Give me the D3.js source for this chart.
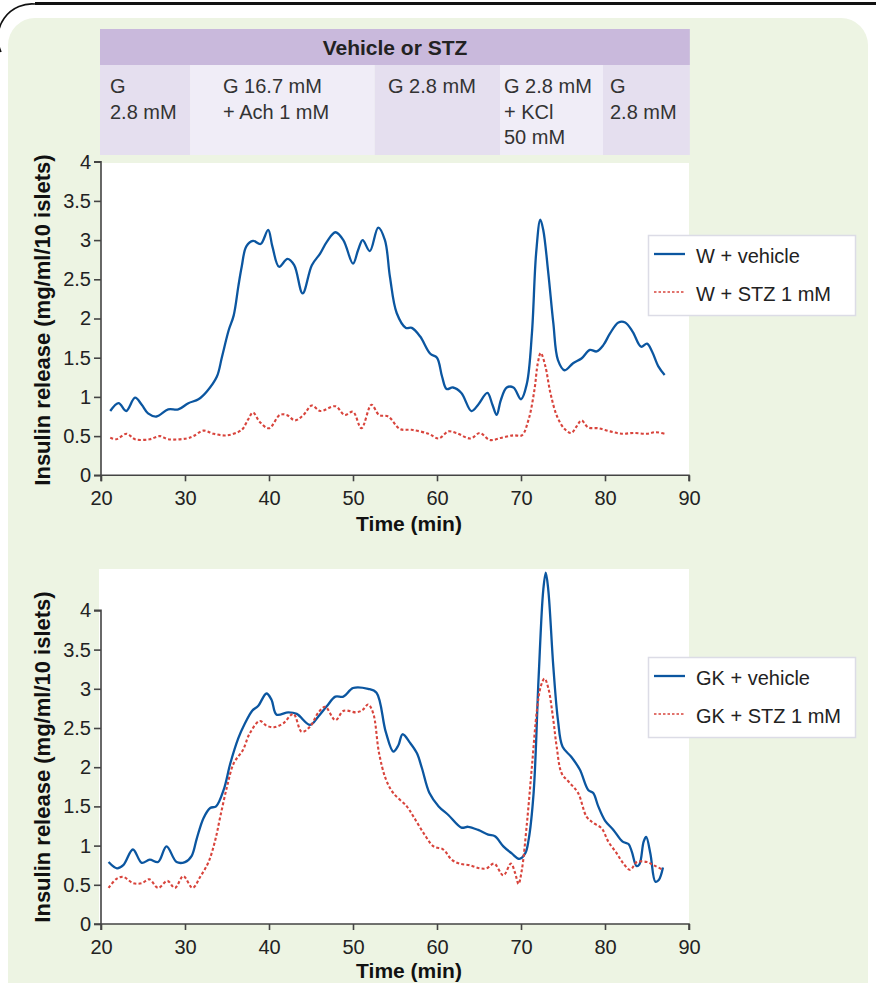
<!DOCTYPE html>
<html>
<head>
<meta charset="utf-8">
<script src="https://cdn.jsdelivr.net/npm/d3@7"></script>
<style>
html,body{margin:0;padding:0;background:#fff;}
svg{display:block;font-family:"Liberation Sans",Arial,Helvetica,sans-serif;}
</style>
</head>
<body>
<svg id="chart" width="876" height="983"></svg>
<script>
// ---------- DATA ----------
const xTicks = [20, 30, 40, 50, 60, 70, 80, 90];
const yTicks = [0, 0.5, 1, 1.5, 2, 2.5, 3, 3.5, 4];
const headerTitle = "Vehicle or STZ";
const phaseLabels = [["G", "2.8 mM"], ["G 16.7 mM", "+ Ach 1 mM"], ["G 2.8 mM"], ["G 2.8 mM", "+ KCl", "50 mM"], ["G", "2.8 mM"]];
const phaseBounds = [19.88, 30.6, 52.6, 67.5, 79.76, 90.1]; // minutes (cell edges)
const seriesNamesTop = ["W + vehicle", "W + STZ 1 mM"];
const seriesNamesBottom = ["GK + vehicle", "GK + STZ 1 mM"];

const wVehTime = [21.1,22.1,23.0,24.05,24.85,25.6,26.6,28.0,29.2,30.4,31.6,32.6,33.8,34.4,35.2,35.8,36.35,36.75,37.3,38.1,39.0,39.9,40.4,41.2,42.2,43.0,44.0,45.1,46.1,46.9,47.9,48.85,50.0,50.6,51.15,52.0,53.0,53.8,54.4,55.2,56.3,57.0,58.0,59.2,60.0,60.6,61.15,61.9,62.9,64.1,64.9,66.0,66.6,67.1,67.6,68.3,69.1,70.0,70.7,71.3,71.8,72.3,72.65,73.25,73.85,74.4,75.2,76.2,77.2,78.2,79.0,79.8,80.6,81.6,82.4,83.3,84.3,85.0,85.6,86.35,87.1];
const wVehVal  = [0.82,0.92,0.82,0.99,0.90,0.79,0.75,0.84,0.84,0.92,0.97,1.07,1.26,1.51,1.85,2.04,2.41,2.66,2.92,2.99,2.95,3.13,2.92,2.66,2.76,2.68,2.32,2.68,2.83,2.98,3.10,3.00,2.70,2.87,3.00,2.86,3.16,3.00,2.53,2.07,1.88,1.88,1.77,1.55,1.50,1.26,1.10,1.12,1.05,0.82,0.90,1.05,0.90,0.77,0.96,1.12,1.12,0.97,1.17,1.81,2.83,3.26,3.13,2.58,1.94,1.47,1.34,1.43,1.49,1.60,1.58,1.66,1.81,1.95,1.95,1.83,1.64,1.68,1.58,1.39,1.28];

const wStzTime = [21.1,21.8,23.05,24.05,25.8,27.0,28.0,30.2,31.0,32.2,33.4,35.0,36.75,37.5,38.1,38.9,40.0,41.3,42.1,43.1,44.1,45.1,46.1,47.9,49.0,50.0,51.0,52.2,53.1,54.2,55.6,57.0,59.0,60.2,61.35,62.3,64.0,65.1,66.3,67.7,69.1,70.1,70.9,71.6,72.0,72.35,72.9,73.5,74.3,75.2,76.0,76.6,77.2,78.0,79.2,80.6,82.0,83.4,85.0,86.0,87.1];
const wStzVal  = [0.48,0.46,0.53,0.46,0.46,0.50,0.46,0.47,0.50,0.57,0.53,0.51,0.58,0.71,0.80,0.68,0.60,0.77,0.77,0.70,0.77,0.89,0.82,0.88,0.77,0.81,0.60,0.90,0.77,0.75,0.59,0.58,0.53,0.47,0.56,0.54,0.47,0.54,0.45,0.48,0.51,0.51,0.71,1.09,1.43,1.56,1.39,1.05,0.75,0.59,0.54,0.62,0.70,0.61,0.60,0.56,0.53,0.54,0.53,0.55,0.53];

const gkVehTime = [20.9,21.9,22.65,23.8,24.85,25.8,26.8,27.8,29.0,30.0,30.8,31.4,32.2,33.0,33.7,34.6,35.4,36.35,37.1,38.0,38.7,39.7,40.3,40.9,42.3,43.3,44.9,45.9,46.9,47.9,48.85,50.0,51.8,52.8,53.9,54.8,55.4,55.9,56.8,57.6,58.2,59.1,60.2,61.35,62.9,63.7,64.9,66.1,66.9,67.9,68.9,69.8,70.5,70.9,71.5,72.1,72.65,72.95,73.25,73.85,74.4,74.95,76.0,77.0,78.0,78.6,79.2,80.0,81.0,82.1,82.8,83.2,83.75,84.1,84.6,84.9,85.4,86.0,86.4,86.9];
const gkVehVal  = [0.79,0.71,0.75,0.95,0.78,0.82,0.79,0.99,0.79,0.79,0.87,1.09,1.35,1.48,1.50,1.71,2.05,2.37,2.55,2.72,2.78,2.94,2.86,2.67,2.70,2.68,2.54,2.65,2.78,2.90,2.90,3.01,3.00,2.95,2.45,2.20,2.28,2.42,2.31,2.18,1.99,1.67,1.50,1.39,1.23,1.24,1.20,1.14,1.12,0.99,0.90,0.83,0.90,1.07,1.67,3.15,4.26,4.48,4.26,3.28,2.60,2.26,2.13,1.97,1.71,1.67,1.50,1.32,1.20,1.05,1.02,0.92,0.74,0.76,1.05,1.11,0.90,0.54,0.56,0.72];

const gkStzTime = [20.9,21.9,22.65,23.85,24.85,25.75,26.8,27.9,28.8,29.8,30.9,31.8,32.8,33.6,34.2,35.0,35.8,36.9,37.7,38.9,39.7,40.6,41.7,42.9,43.9,44.9,45.9,46.7,47.9,48.9,50.4,51.15,51.8,52.4,53.1,53.9,54.8,56.4,57.2,58.4,59.6,60.75,61.75,62.7,63.9,65.1,65.9,66.8,67.9,68.8,69.3,69.7,70.1,70.7,71.3,71.9,72.35,72.8,73.25,73.85,74.25,74.85,75.8,76.8,77.8,78.6,79.6,80.4,81.4,82.2,83.0,83.8,85.0,85.8,86.9];
const gkStzVal  = [0.46,0.58,0.60,0.52,0.52,0.57,0.46,0.55,0.46,0.61,0.46,0.60,0.79,1.07,1.37,1.75,2.05,2.22,2.43,2.59,2.53,2.51,2.56,2.68,2.45,2.52,2.70,2.77,2.60,2.72,2.70,2.73,2.80,2.69,2.18,1.85,1.67,1.50,1.37,1.16,0.99,0.95,0.82,0.77,0.75,0.71,0.71,0.77,0.62,0.77,0.65,0.51,0.69,1.28,2.01,2.73,3.03,3.13,3.01,2.60,2.26,1.92,1.80,1.67,1.37,1.29,1.22,1.05,0.90,0.77,0.69,0.79,0.79,0.75,0.69];

// ---------- STYLE ----------
const BLUE = "#0b56a0", RED = "#d8443c";
const FS = 20;
const svg = d3.select("#chart");

// background frame
svg.append("rect").attr("x", 8).attr("y", 18).attr("width", 860).attr("height", 990)
  .attr("rx", 27).attr("fill", "#edf4e3");
svg.append("path").attr("d", "M1,52 A34,34 0 0 1 35,4").attr("fill", "none").attr("stroke", "#111").attr("stroke-width", 1.6);
svg.append("line").attr("x1", 35).attr("x2", 876).attr("y1", 3.5).attr("y2", 3.5).attr("stroke", "#111").attr("stroke-width", 3);

const x = d3.scaleLinear().domain([20, 90]).range([101, 689]);

// header table
svg.append("rect").attr("x", x(phaseBounds[0])).attr("y", 29).attr("width", x(phaseBounds[5]) - x(phaseBounds[0])).attr("height", 36).attr("fill", "#c9b9dc");
svg.append("text").attr("x", 395).attr("y", 55).attr("text-anchor", "middle")
  .attr("font-weight", "bold").attr("font-size", 21).attr("fill", "#222").text(headerTitle);
const cellFill = ["#e5dfef", "#f0edf7", "#e5dfef", "#f0edf7", "#e5dfef"];
const cellTextX = [110, 223, 388, 504, 610];
phaseLabels.forEach((lines, i) => {
  const x0 = x(phaseBounds[i]), x1 = x(phaseBounds[i + 1]);
  svg.append("rect").attr("x", x0).attr("y", 65).attr("width", x1 - x0).attr("height", 90).attr("fill", cellFill[i]);
  lines.forEach((ln, j) => {
    svg.append("text").attr("x", cellTextX[i]).attr("y", 93 + j * 25.5)
      .attr("font-size", FS).attr("fill", "#333").text(ln);
  });
});

function panel(cfg) {
  const y = d3.scaleLinear().domain([0, 4]).range([cfg.y0, cfg.y0 - 313.6]);
  svg.append("rect").attr("x", cfg.wx).attr("y", cfg.wy).attr("width", 689 - cfg.wx).attr("height", cfg.y0 - cfg.wy).attr("fill", "#fff");

  const line = d3.line().x(d => x(d[0])).y(d => y(d[1])).curve(d3.curveCatmullRom.alpha(0.5));
  const s1 = cfg.t1.map((t, i) => [t, cfg.v1[i]]);
  const s2 = cfg.t2.map((t, i) => [t, cfg.v2[i]]);
  [[s1, BLUE, null, 2.3], [s2, RED, "3,2.2", 2.1]].forEach(([s, c, dash, w]) => {
    svg.append("path").datum(s).attr("d", line).attr("fill", "none").attr("stroke", c)
      .attr("stroke-width", w).attr("stroke-dasharray", dash).attr("stroke-linejoin", "round");
  });

  const yAxis = svg.append("g").attr("transform", `translate(101,0)`)
    .call(d3.axisLeft(y).tickValues(yTicks).tickSize(7).tickPadding(3).tickFormat(d3.format("")));
  const xAxis = svg.append("g").attr("transform", `translate(0,${cfg.y0})`)
    .call(d3.axisBottom(x).tickValues(xTicks).tickSize(6).tickPadding(0).tickFormat(d3.format("")));
  [yAxis, xAxis].forEach(a => {
    a.select(".domain").attr("stroke", "#444").attr("stroke-width", 1.6);
    a.selectAll(".tick line").attr("stroke", "#444").attr("stroke-width", 1.6);
    a.selectAll("text").attr("font-size", FS).attr("fill", "#222")
      .attr("font-family", "'Liberation Sans',Arial,sans-serif");
  });
  xAxis.selectAll(".tick text").attr("dy", null).attr("y", 30);
  xAxis.select(".domain").attr("d", `M101,6V0H689V6`);
  yAxis.select(".domain").attr("d", `M-7,${y(4)}H0V${y(0)}H-7`);

  svg.append("text").attr("x", 409).attr("y", cfg.y0 + cfg.titleOff).attr("text-anchor", "middle")
    .attr("font-weight", "bold").attr("font-size", 21).attr("fill", "#111").text("Time (min)");
  svg.append("text").attr("transform", `translate(50,${cfg.labelY}) rotate(-90)`).attr("text-anchor", "middle")
    .attr("font-weight", "bold").attr("font-size", 22).attr("fill", "#111").text("Insulin release (mg/ml/10 islets)");

  // legend
  const lg = svg.append("g").attr("transform", `translate(648,${cfg.legY})`);
  lg.append("rect").attr("x", 0.5).attr("y", 0.5).attr("width", 207).attr("height", 80)
    .attr("fill", "#fff").attr("stroke", "#dcdce6").attr("stroke-width", 1.5);
  [[BLUE, null, 2.3, 19], [RED, "2.5,2", 1.4, 57]].forEach(([c, dash, w, ly], i) => {
    lg.append("line").attr("x1", 6).attr("x2", 37).attr("y1", ly).attr("y2", ly)
      .attr("stroke", c).attr("stroke-width", w).attr("stroke-dasharray", dash);
    lg.append("text").attr("x", 48).attr("y", ly + 9).attr("font-size", FS).attr("fill", "#222").text(cfg.names[i]);
  });
}

panel({ y0: 475.3, wx: 101, wy: 163, t1: wVehTime, v1: wVehVal, t2: wStzTime, v2: wStzVal,
  names: seriesNamesTop, legY: 235, labelY: 320, titleOff: 56 });
panel({ y0: 924, wx: 99, wy: 569, t1: gkVehTime, v1: gkVehVal, t2: gkStzTime, v2: gkStzVal,
  names: seriesNamesBottom, legY: 657, labelY: 757, titleOff: 54 });
</script>
</body>
</html>
